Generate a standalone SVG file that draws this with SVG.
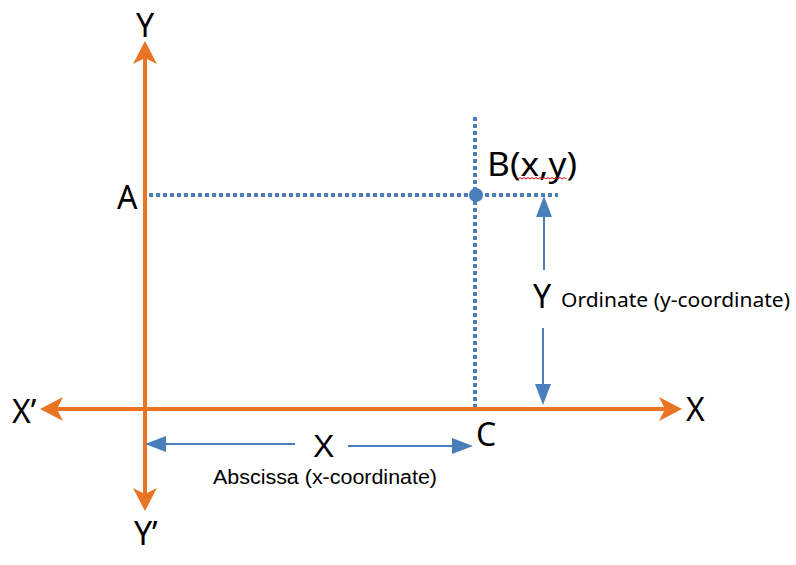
<svg xmlns="http://www.w3.org/2000/svg" width="796" height="565" viewBox="0 0 796 565">
<style>
.axis{stroke:#E97423;stroke-width:4;fill:none}
.dot{stroke:#4A7EBB;stroke-width:4;stroke-dasharray:4 3;fill:none}
.dim{stroke:#4A7EBB;stroke-width:2;fill:none}
.big{font-family:"Noto Sans","Liberation Sans",sans-serif;font-size:32px;fill:#000}
.small{font-family:"Noto Sans","Liberation Sans",sans-serif;font-size:20px;fill:#000}
.lib{font-family:"Liberation Sans",sans-serif}
</style>
<defs>
<marker id="oa" markerUnits="userSpaceOnUse" markerWidth="30" markerHeight="30" refX="13" refY="12" orient="auto-start-reverse">
<path d="M0,0 L23,12 L0,24 L6,12 Z" fill="#E97423"/>
</marker>
<marker id="ba" markerUnits="userSpaceOnUse" markerWidth="30" markerHeight="30" refX="11" refY="8" orient="auto-start-reverse">
<path d="M0,0 L21,8 L0,16 Z" fill="#4A7EBB"/>
</marker>
</defs>
<g id="connectors">
<line id="y-axis" class="axis" x1="145" y1="51" x2="145" y2="501" marker-start="url(#oa)" marker-end="url(#oa)"/>
<line id="x-axis" class="axis" x1="50" y1="409" x2="672" y2="409" marker-start="url(#oa)" marker-end="url(#oa)"/>
<line class="dot" x1="149" y1="195" x2="558" y2="195"/>
<line class="dot" x1="475" y1="117" x2="475" y2="407"/>
<line class="dim" x1="544" y1="206" x2="544" y2="270" marker-start="url(#ba)"/>
<line class="dim" x1="543" y1="328" x2="543" y2="395" marker-end="url(#ba)"/>
<line class="dim" x1="155" y1="444" x2="295" y2="444" marker-start="url(#ba)"/>
<line class="dim" x1="348" y1="446" x2="463" y2="446" marker-end="url(#ba)"/>
</g>
<g id="point-B">
<circle cx="476" cy="195" r="7" fill="#4A7EBB"/>
<text class="big" x="487" y="176" textLength="90" lengthAdjust="spacingAndGlyphs">B(x,y)</text>
<path d="M518,179 l2,-1.5 l2,1.5 l2,-1.5 l2,1.5 l2,-1.5 l2,1.5 l2,-1.5 l2,1.5 l2,-1.5 l2,1.5 l2,-1.5 l2,1.5 l2,-1.5 l2,1.5 l2,-1.5 l2,1.5 l2,-1.5 l2,1.5 l2,-1.5 l2,1.5 l2,-1.5 l2,1.5 l2,-1.5 l2,1.5" stroke="#E00000" stroke-width="1" fill="none"/>
</g>
<g id="labels">
<text class="big" x="145" y="37" text-anchor="middle">Y</text>
<text class="big" x="117" y="209">A</text>
<text class="big" x="533" y="308">Y</text>
<text class="small" x="561" y="307" textLength="229" lengthAdjust="spacingAndGlyphs">Ordinate (y-coordinate)</text>
<text class="big" x="686" y="421">X</text>
<text class="big" x="12" y="423">X’</text>
<text class="big" x="476" y="446">C</text>
<text class="big lib" x="313" y="457">X</text>
<text class="small lib" x="213" y="484" textLength="224" lengthAdjust="spacingAndGlyphs">Abscissa (x-coordinate)</text>
<text class="big" x="134" y="545">Y’</text>
</g>
</svg>
